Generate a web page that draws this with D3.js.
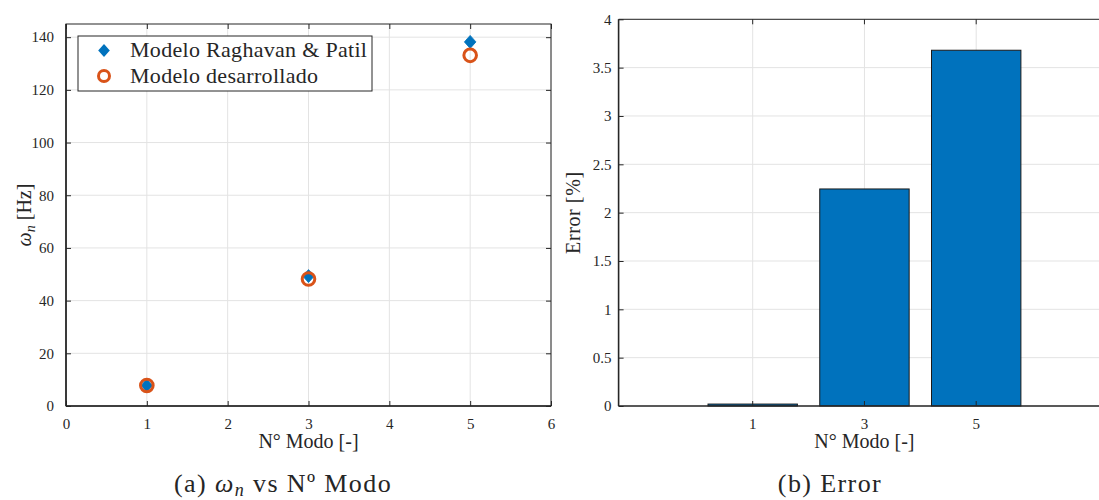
<!DOCTYPE html>
<html>
<head>
<meta charset="utf-8">
<script src="https://cdn.jsdelivr.net/npm/d3@7"></script>
<style>
  html, body { margin: 0; padding: 0; background: #fff; }
  svg { display: block; }
</style>
</head>
<body>
<svg id="chart" width="1099" height="500"></svg>
<script>
// Natural frequencies per mode (left panel)
const modes = [1, 3, 5];
const freqRaghavan = [7.8, 49.3, 138.2];
const freqDesarrollado = [7.8, 48.2, 133.1];
// Relative error per mode, percent (right panel)
const errorCats = ["1", "3", "5"];
const errorValues = [0.02, 2.245, 3.68];
// Tick values
const leftXTicks = [0, 1, 2, 3, 4, 5, 6];
const leftYTicks = [0, 20, 40, 60, 80, 100, 120, 140];
const rightYTicks = [0, 0.5, 1, 1.5, 2, 2.5, 3, 3.5, 4];
const seriesNames = ["Modelo Raghavan & Patil", "Modelo desarrollado"];

const FONT = "'Liberation Serif', 'DejaVu Serif', serif";
const BLUE = "#0072BD", ORANGE = "#D95319", AXIS = "#262626", GRID = "#e3e3e3";
const svg = d3.select("#chart").attr("font-family", FONT);
const TICK = 5;

// ---------------- Left panel: frequency vs mode ----------------
const L = { left: 66, right: 551, top: 24, bottom: 406 };
const xL = d3.scaleLinear().domain([0, 6]).range([L.left, L.right]);
const yL = d3.scaleLinear().domain([0, 145]).range([L.bottom, L.top]);
const gL = svg.append("g");

// grid
gL.append("g").selectAll("line").data(leftXTicks).join("line")
  .attr("x1", d => xL(d)).attr("x2", d => xL(d))
  .attr("y1", L.top).attr("y2", L.bottom)
  .attr("stroke", GRID).attr("stroke-width", 1);
gL.append("g").selectAll("line").data(leftYTicks).join("line")
  .attr("x1", L.left).attr("x2", L.right)
  .attr("y1", d => yL(d)).attr("y2", d => yL(d))
  .attr("stroke", GRID).attr("stroke-width", 1);

// axes (inward ticks, box on)
function styleAxis(g) {
  g.attr("font-family", FONT).attr("font-size", 15);
  g.select(".domain").remove();
  g.selectAll(".tick line").attr("stroke", AXIS).attr("stroke-width", 1);
  g.selectAll(".tick text").style("font-family", FONT).attr("font-size", 15).attr("fill", AXIS);
}
gL.append("g").attr("transform", `translate(0,${L.bottom})`)
  .call(d3.axisBottom(xL).tickValues(leftXTicks).tickFormat(d3.format("d")).tickSizeInner(-TICK).tickPadding(12))
  .call(styleAxis);
gL.append("g").attr("transform", `translate(0,${L.top})`)
  .call(d3.axisTop(xL).tickValues(leftXTicks).tickFormat("").tickSizeInner(-TICK))
  .call(styleAxis);
gL.append("g").attr("transform", `translate(${L.left},0)`)
  .call(d3.axisLeft(yL).tickValues(leftYTicks).tickFormat(d3.format("d")).tickSizeInner(-TICK).tickPadding(12))
  .call(styleAxis);
gL.append("g").attr("transform", `translate(${L.right},0)`)
  .call(d3.axisRight(yL).tickValues(leftYTicks).tickFormat("").tickSizeInner(-TICK))
  .call(styleAxis);
gL.append("rect").attr("x", L.left).attr("y", L.top)
  .attr("width", L.right - L.left).attr("height", L.bottom - L.top)
  .attr("fill", "none").attr("stroke", AXIS).attr("stroke-width", 1);
gL.append("line").attr("x1", L.left).attr("x2", L.right).attr("y1", L.bottom).attr("y2", L.bottom)
  .attr("stroke", AXIS).attr("stroke-width", 1.6);
gL.append("line").attr("x1", L.left).attr("x2", L.left).attr("y1", L.top).attr("y2", L.bottom)
  .attr("stroke", AXIS).attr("stroke-width", 1.6);

// markers
const diamond = (cx, cy) => `M${cx},${cy - 6.5}L${cx + 5.8},${cy}L${cx},${cy + 6.5}L${cx - 5.8},${cy}Z`;
gL.append("g").selectAll("path").data(modes).join("path")
  .attr("d", (d, i) => diamond(xL(d), yL(freqRaghavan[i])))
  .attr("fill", BLUE).attr("stroke", BLUE).attr("stroke-width", 0.8);
gL.append("g").selectAll("circle").data(modes).join("circle")
  .attr("cx", d => xL(d)).attr("cy", (d, i) => yL(freqDesarrollado[i]))
  .attr("r", 6.3).attr("fill", "none").attr("stroke", ORANGE).attr("stroke-width", 3);

// legend
const lg = gL.append("g");
lg.append("rect").attr("x", 78).attr("y", 36).attr("width", 294).attr("height", 55)
  .attr("fill", "#fff").attr("stroke", AXIS).attr("stroke-width", 1);
lg.append("path").attr("d", diamond(104, 50.5)).attr("fill", BLUE);
lg.append("circle").attr("cx", 104).attr("cy", 76).attr("r", 5.5)
  .attr("fill", "none").attr("stroke", ORANGE).attr("stroke-width", 3);
lg.selectAll("text.leg").data(seriesNames).join("text").attr("class", "leg")
  .attr("x", 130).attr("y", (d, i) => 57 + i * 25.5)
  .attr("font-size", 22).attr("letter-spacing", 0.3).attr("fill", AXIS).text(d => d);

// axis labels
gL.append("text").attr("x", (L.left + L.right) / 2).attr("y", 448)
  .attr("text-anchor", "middle").attr("font-size", 20).attr("fill", AXIS).text("N° Modo [-]");
const yl = gL.append("text").attr("transform", `translate(31,${(L.top + L.bottom) / 2}) rotate(-90)`)
  .attr("text-anchor", "middle").attr("font-size", 20).attr("fill", AXIS);
yl.append("tspan").attr("font-style", "italic").text("ω");
yl.append("tspan").attr("font-style", "italic").attr("font-size", 14).attr("dy", 4).text("n");
yl.append("tspan").attr("dy", -4).text(" [Hz]");

// caption (a)
const capA = svg.append("text").attr("x", 283).attr("y", 492)
  .attr("text-anchor", "middle").attr("font-size", 26).attr("letter-spacing", 1.4).attr("fill", AXIS);
capA.append("tspan").text("(a) ");
capA.append("tspan").attr("font-style", "italic").text("ω");
capA.append("tspan").attr("font-style", "italic").attr("font-size", 18).attr("dy", 4).text("n");
capA.append("tspan").attr("dy", -4).text(" vs Nº Modo");

// ---------------- Right panel: error bars ----------------
const R = { left: 618.6, right: 1110.3, top: 19.3, bottom: 406 };
const xR = d3.scaleBand().domain(errorCats).range([R.left, R.right])
  .paddingInner(0.2).paddingOuter(0.8);
const yR = d3.scaleLinear().domain([0, 4]).range([R.bottom, R.top]);
const gR = svg.append("g");
const center = d => xR(d) + xR.bandwidth() / 2;

gR.append("g").selectAll("line").data(errorCats).join("line")
  .attr("x1", center).attr("x2", center).attr("y1", R.top).attr("y2", R.bottom)
  .attr("stroke", GRID).attr("stroke-width", 1);
gR.append("g").selectAll("line").data(rightYTicks).join("line")
  .attr("x1", R.left).attr("x2", R.right)
  .attr("y1", d => yR(d)).attr("y2", d => yR(d))
  .attr("stroke", GRID).attr("stroke-width", 1);

// bars
gR.append("g").selectAll("rect").data(errorValues).join("rect")
  .attr("x", (d, i) => xR(errorCats[i])).attr("width", xR.bandwidth())
  .attr("y", d => yR(d)).attr("height", d => Math.max(0, yR(0) - yR(d)))
  .attr("fill", BLUE).attr("stroke", "#1a1a1a").attr("stroke-width", 1);

// axes
gR.append("g").attr("transform", `translate(0,${R.bottom})`)
  .call(d3.axisBottom(xR).tickSizeInner(-TICK).tickSizeOuter(0).tickPadding(12))
  .call(styleAxis);
gR.append("g").attr("transform", `translate(0,${R.top})`)
  .call(d3.axisTop(xR).tickFormat("").tickSizeInner(-TICK).tickSizeOuter(0))
  .call(styleAxis);
gR.append("g").attr("transform", `translate(${R.left},0)`)
  .call(d3.axisLeft(yR).tickValues(rightYTicks).tickFormat(d => String(d))
    .tickSizeInner(-TICK).tickPadding(7))
  .call(styleAxis);
gR.append("line").attr("x1", R.left).attr("x2", R.right).attr("y1", R.top).attr("y2", R.top)
  .attr("stroke", AXIS).attr("stroke-width", 1);
gR.append("line").attr("x1", R.left).attr("x2", R.right).attr("y1", R.bottom).attr("y2", R.bottom)
  .attr("stroke", AXIS).attr("stroke-width", 1.6);
gR.append("line").attr("x1", R.left).attr("x2", R.left).attr("y1", R.top).attr("y2", R.bottom)
  .attr("stroke", AXIS).attr("stroke-width", 1.6);

gR.append("text").attr("x", (R.left + R.right) / 2).attr("y", 448)
  .attr("text-anchor", "middle").attr("font-size", 20).attr("fill", AXIS).text("N° Modo [-]");
gR.append("text").attr("transform", `translate(580,${(R.top + R.bottom) / 2}) rotate(-90)`)
  .attr("text-anchor", "middle").attr("font-size", 20).attr("letter-spacing", 0.6).attr("fill", AXIS).text("Error [%]");

svg.append("text").attr("x", 830).attr("y", 492)
  .attr("text-anchor", "middle").attr("font-size", 26).attr("letter-spacing", 1.4).attr("fill", AXIS).text("(b) Error");
</script>
</body>
</html>
